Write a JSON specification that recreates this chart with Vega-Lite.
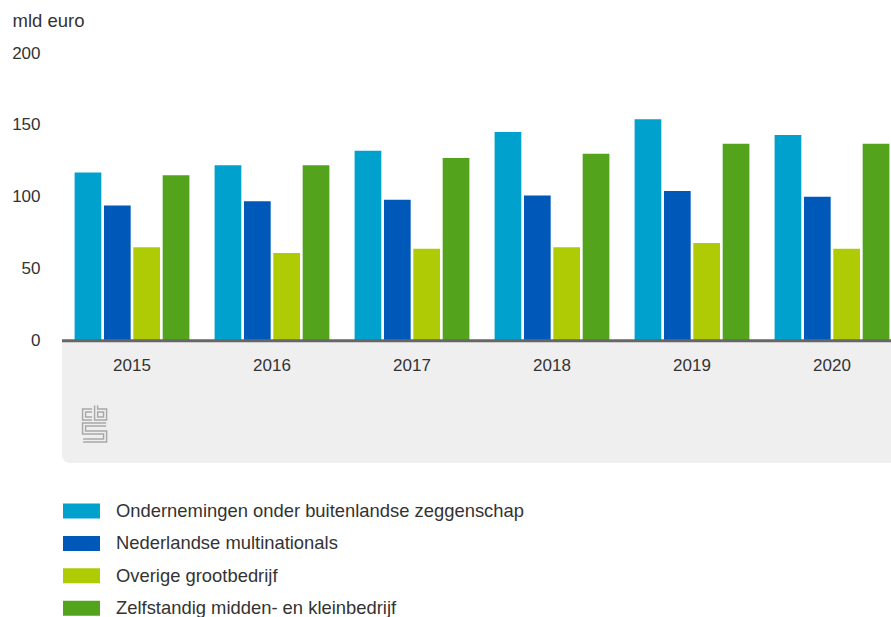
{
  "$schema": "https://vega.github.io/schema/vega-lite/v6.json",
  "autosize": "none",
  "width": 840,
  "height": 410,
  "padding": {"left": 62, "top": 53, "right": 0, "bottom": 154},
  "background": "white",
  "config": {
    "view": {"stroke": null},
    "font": "Liberation Sans"
  },
  "datasets": {
    "main": [
      {"year": "2015", "cat": "Ondernemingen onder buitenlandse zeggenschap", "value": 117},
      {"year": "2015", "cat": "Nederlandse multinationals", "value": 94},
      {"year": "2015", "cat": "Overige grootbedrijf", "value": 65},
      {"year": "2015", "cat": "Zelfstandig midden- en kleinbedrijf", "value": 115},
      {"year": "2016", "cat": "Ondernemingen onder buitenlandse zeggenschap", "value": 122},
      {"year": "2016", "cat": "Nederlandse multinationals", "value": 97},
      {"year": "2016", "cat": "Overige grootbedrijf", "value": 61},
      {"year": "2016", "cat": "Zelfstandig midden- en kleinbedrijf", "value": 122},
      {"year": "2017", "cat": "Ondernemingen onder buitenlandse zeggenschap", "value": 132},
      {"year": "2017", "cat": "Nederlandse multinationals", "value": 98},
      {"year": "2017", "cat": "Overige grootbedrijf", "value": 64},
      {"year": "2017", "cat": "Zelfstandig midden- en kleinbedrijf", "value": 127},
      {"year": "2018", "cat": "Ondernemingen onder buitenlandse zeggenschap", "value": 145},
      {"year": "2018", "cat": "Nederlandse multinationals", "value": 101},
      {"year": "2018", "cat": "Overige grootbedrijf", "value": 65},
      {"year": "2018", "cat": "Zelfstandig midden- en kleinbedrijf", "value": 130},
      {"year": "2019", "cat": "Ondernemingen onder buitenlandse zeggenschap", "value": 154},
      {"year": "2019", "cat": "Nederlandse multinationals", "value": 104},
      {"year": "2019", "cat": "Overige grootbedrijf", "value": 68},
      {"year": "2019", "cat": "Zelfstandig midden- en kleinbedrijf", "value": 137},
      {"year": "2020", "cat": "Ondernemingen onder buitenlandse zeggenschap", "value": 143},
      {"year": "2020", "cat": "Nederlandse multinationals", "value": 100},
      {"year": "2020", "cat": "Overige grootbedrijf", "value": 64},
      {"year": "2020", "cat": "Zelfstandig midden- en kleinbedrijf", "value": 137}
    ],
    "years": [
      {"year": "2015"}, {"year": "2016"}, {"year": "2017"},
      {"year": "2018"}, {"year": "2019"}, {"year": "2020"}
    ]
  },
  "data": {"name": "main"},
  "layer": [
    {
      "data": {"values": [{}]},
      "mark": {"type": "rect", "fill": "#efefef", "cornerRadiusBottomLeft": 8},
      "encoding": {
        "y": {"datum": 0, "type": "quantitative", "scale": {"domain": [-85, 200], "nice": false, "zero": false}},
        "y2": {"datum": -85}
      }
    },
    {
      "mark": {"type": "bar"},
      "encoding": {
        "x": {"field": "year", "type": "nominal", "axis": null, "scale": {"paddingInner": 0.18, "paddingOuter": 0.09}},
        "xOffset": {"field": "cat", "type": "nominal", "sort": null, "scale": {"paddingInner": 0.09, "paddingOuter": 0, "domain": ["Ondernemingen onder buitenlandse zeggenschap", "Nederlandse multinationals", "Overige grootbedrijf", "Zelfstandig midden- en kleinbedrijf"]}},
        "y": {
          "field": "value", "type": "quantitative",
          "axis": {
            "title": "mld euro", "titleAngle": 0, "titleX": -50, "titleY": -33,
            "titleAlign": "left", "titleBaseline": "middle", "titleFontSize": 18.5,
            "titleFontWeight": "normal", "titleColor": "#333333",
            "values": [0, 50, 100, 150, 200],
            "domain": false, "ticks": false, "labelPadding": 22,
            "labelFontSize": 17, "labelColor": "#333333",
            "gridColor": "#dddddd", "gridWidth": 1.5
          }
        },
        "color": {
          "field": "cat", "type": "nominal",
          "scale": {
            "domain": ["Ondernemingen onder buitenlandse zeggenschap", "Nederlandse multinationals", "Overige grootbedrijf", "Zelfstandig midden- en kleinbedrijf"],
            "range": ["#00a1cd", "#0058b8", "#afcb05", "#53a31d"]
          },
          "legend": {
            "title": null, "orient": "none", "legendX": 1, "legendY": 448,
            "symbolType": "M-1,-0.75H2.7V0.75H-1Z", "symbolSize": 400,
            "symbolStrokeWidth": 0, "labelOffset": 33, "rowPadding": 12.4,
            "labelFontSize": 18.4, "labelColor": "#333333", "labelLimit": 600
          }
        }
      }
    },
    {
      "data": {"values": [{}]},
      "mark": {"type": "rule", "stroke": "#666666", "strokeWidth": 3},
      "encoding": {"y": {"datum": 0}}
    },
    {
      "data": {"name": "years"},
      "mark": {"type": "text", "fontSize": 17, "color": "#333333", "baseline": "middle"},
      "encoding": {
        "x": {"field": "year", "type": "nominal"},
        "y": {"datum": -17.3},
        "text": {"field": "year"}
      }
    },
    {
      "data": {"values": [{}]},
      "mark": {"type": "point", "filled": false, "stroke": "#a8a8a8", "strokeWidth": 4.5, "opacity": 1,
        "shape": "M-0.18,-0.93H-0.75V-0.36H-0.18M0.11,-1.29V-0.36H0.75V-0.93H0.11M0.82,0.07H-0.75V0.64H0.75V1.21H-0.82",
        "size": 784},
      "encoding": {
        "x": {"datum": "2015", "bandPosition": 0.174},
        "y": {"datum": -57.6}
      }
    },
    {
      "data": {"values": [{}]},
      "mark": {"type": "point", "filled": false, "stroke": "#efefef", "strokeWidth": 1.6, "opacity": 1,
        "shape": "M-0.18,-0.93H-0.75V-0.36H-0.18M0.11,-1.29V-0.36H0.75V-0.93H0.11M0.82,0.07H-0.75V0.64H0.75V1.21H-0.82",
        "size": 784},
      "encoding": {
        "x": {"datum": "2015", "bandPosition": 0.174},
        "y": {"datum": -57.6}
      }
    }
  ]
}
